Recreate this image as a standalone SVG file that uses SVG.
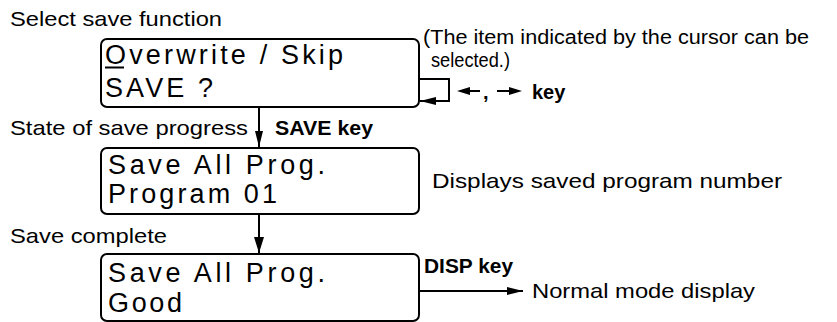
<svg xmlns="http://www.w3.org/2000/svg" width="837" height="322" viewBox="0 0 837 322">
<defs>
<style>
.box{fill:#fff;stroke:#000;stroke-width:2}
.lcd{font-family:"Liberation Sans",Arial,sans-serif;font-size:27px;fill:#000}
.lbl{font-family:"Liberation Sans",Arial,sans-serif;font-size:21px;fill:#000}
.note{font-family:"Liberation Sans",Arial,sans-serif;font-size:20px;fill:#000}
.key{font-family:"Liberation Sans",Arial,sans-serif;font-size:20px;font-weight:bold;fill:#000}
.ln{fill:none;stroke:#000;stroke-width:2}
</style>
<marker id="ah" viewBox="0 0 16 10" refX="16" refY="5" markerWidth="16" markerHeight="10" markerUnits="userSpaceOnUse" orient="auto">
<path d="M0,0 L16,5 L0,10 Z" fill="#000"/>
</marker>
<marker id="ahs" viewBox="0 0 16 8" refX="16" refY="4" markerWidth="16" markerHeight="8" markerUnits="userSpaceOnUse" orient="auto">
<path d="M0,0 L16,4 L0,8 Z" fill="#000"/>
</marker>
</defs>
<rect width="837" height="322" fill="#fff"/>

<g id="labels">
<text class="lbl" x="10" y="26" textLength="212" lengthAdjust="spacingAndGlyphs">Select save function</text>
<text class="note" x="423" y="44" textLength="386" lengthAdjust="spacingAndGlyphs">(The item indicated by the cursor can be</text>
<text class="note" x="431" y="67" textLength="79" lengthAdjust="spacingAndGlyphs">selected.)</text>
<text class="lbl" x="10" y="135" textLength="238" lengthAdjust="spacingAndGlyphs">State of save progress</text>
<text class="lbl" x="432" y="188" textLength="350" lengthAdjust="spacingAndGlyphs">Displays saved program number</text>
<text class="lbl" x="10" y="243" textLength="157" lengthAdjust="spacingAndGlyphs">Save complete</text>
<text class="lbl" x="532" y="298" textLength="223" lengthAdjust="spacingAndGlyphs">Normal mode display</text>
</g>

<g id="node-select">
<rect class="box" x="101" y="39" width="318" height="68" rx="6"/>
<text class="lcd" x="105" y="64" textLength="238" lengthAdjust="spacing">Overwrite / Skip</text>
<line x1="105" y1="67.5" x2="124" y2="67.5" stroke="#000" stroke-width="2"/>
<text class="lcd" x="105" y="97" textLength="108" lengthAdjust="spacing">SAVE ?</text>
</g>

<g id="node-progress">
<rect class="box" x="101" y="148" width="318" height="66" rx="6"/>
<text class="lcd" x="108" y="174" textLength="217" lengthAdjust="spacing">Save All Prog.</text>
<text class="lcd" x="108" y="203" textLength="169" lengthAdjust="spacing">Program 01</text>
</g>

<g id="node-complete">
<rect class="box" x="101" y="254" width="318" height="67" rx="6"/>
<text class="lcd" x="108" y="282" textLength="217" lengthAdjust="spacing">Save All Prog.</text>
<text class="lcd" x="108" y="312" textLength="74" lengthAdjust="spacing">Good</text>
</g>

<g id="connectors">
<path class="ln" d="M419,79 H449 V101 H420" marker-end="url(#ahs)"/>
<line class="ln" x1="259" y1="107" x2="259" y2="147" marker-end="url(#ahs)"/>
<line class="ln" x1="259" y1="214" x2="259" y2="253" marker-end="url(#ah)"/>
<line class="ln" x1="419" y1="291" x2="523" y2="291" marker-end="url(#ahs)"/>
<text class="key" x="275" y="135" textLength="98" lengthAdjust="spacingAndGlyphs">SAVE key</text>
<text class="key" x="424" y="273" textLength="89" lengthAdjust="spacingAndGlyphs">DISP key</text>
<g id="arrow-keys">
<line class="ln" x1="462" y1="91" x2="480" y2="91"/>
<path d="M457,91 L470,87 L470,95 Z" fill="#000"/>
<line class="ln" x1="497" y1="91" x2="515" y2="91"/>
<path d="M522,91 L509,87 L509,95 Z" fill="#000"/>
<text class="key" x="483" y="99">,</text>
<text class="key" x="532" y="99">key</text>
</g>
</g>
</svg>
